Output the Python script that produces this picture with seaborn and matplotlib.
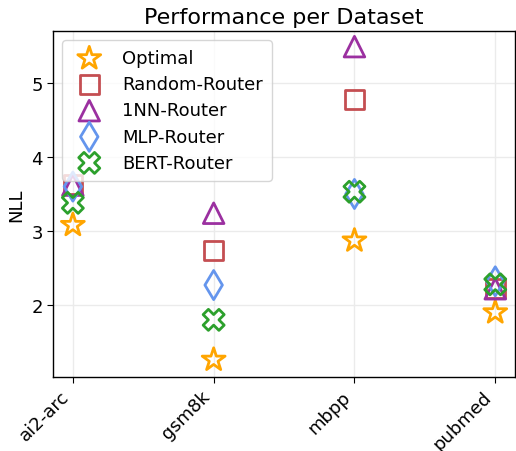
import pandas as pd
import matplotlib
matplotlib.use("Agg")
import matplotlib.pyplot as plt
import seaborn as sns

# --- Datos ---
datasets = ["ai2-arc", "gsm8k", "mbpp", "pubmed"]
methods = ["Optimal", "Random-Router", "1NN-Router", "MLP-Router", "BERT-Router"]

optimal = [3.08, 1.26, 2.87, 1.90]
random_router = [3.63, 2.74, 4.78, 2.22]
nn1_router = [3.62, 3.24, 5.49, 2.22]
mlp_router = [3.60, 2.27, 3.50, 2.32]
bert_router = [3.38, 1.80, 3.53, 2.28]

colors = ["orange", "#C44E52", "#9B30A0", "cornflowerblue", "#2CA02C"]
markers = ["*", "s", "^", "d", "X"]
sizes = [300, 180, 220, 220, 230]

values = [optimal, random_router, nn1_router, mlp_router, bert_router]
df = pd.DataFrame({
    "dataset": datasets * len(methods),
    "method": [m for m in methods for _ in datasets],
    "nll": [v for vals in values for v in vals],
})

sns.set_style("white")
plt.rcParams.update({"text.color": "black", "axes.labelcolor": "black",
                     "xtick.color": "black", "ytick.color": "black"})
fig, ax = plt.subplots(figsize=(5.16, 4.52), dpi=100)
fig.subplots_adjust(left=0.103, right=0.998, top=0.929, bottom=0.164)

for m, c, mk, s in zip(methods, colors, markers, sizes):
    sub = df[df["method"] == m]
    ax.scatter(sub["dataset"], sub["nll"], marker=mk, s=s, facecolors="none",
               edgecolors=c, linewidths=2, label=m, zorder=3)

ax.set_xlim(-0.14, 3.14)
ax.set_ylim(1.03, 5.7)
ax.set_yticks([2, 3, 4, 5])
ax.grid(True, color="#ebebeb", linewidth=1)
ax.set_title("Performance per Dataset", fontsize=16)
ax.set_ylabel("NLL", fontsize=13)
ax.set_xlabel("")
ax.tick_params(axis="both", labelsize=13, length=4, left=True, bottom=True)
plt.setp(ax.get_xticklabels(), rotation=45, ha="right")
for sp in ax.spines.values():
    sp.set_color("black")
    sp.set_linewidth(1)
ax.legend(loc="upper left", fontsize=13, borderpad=0.5, handletextpad=0.8,
          labelspacing=0.45, framealpha=0.8)

plt.savefig("out.png", dpi=100)
